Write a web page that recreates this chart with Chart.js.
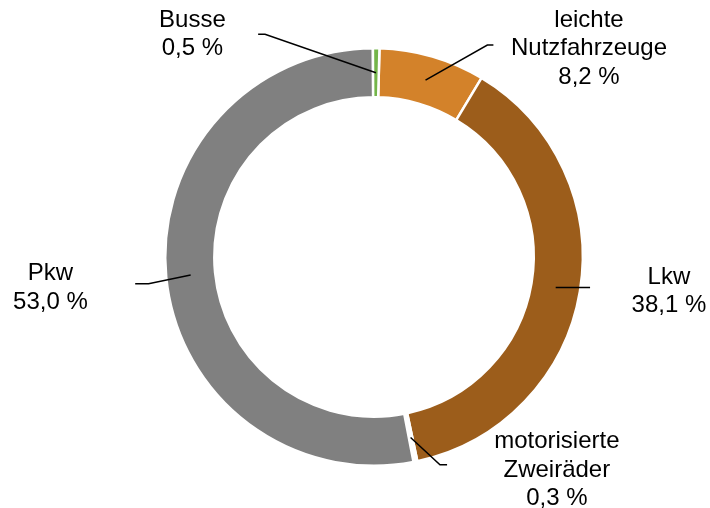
<!DOCTYPE html>
<html>
<head>
<meta charset="utf-8">
<script src="https://cdn.jsdelivr.net/npm/chart.js@4/dist/chart.umd.min.js"></script>
<style>
  html, body { margin: 0; padding: 0; background: #fff; }
  #wrap { width: 710px; height: 508px; position: relative; }
</style>
</head>
<body>
<div id="wrap"><canvas id="c" width="710" height="508"></canvas></div>
<script>
// Data
const categories = ["leichte Nutzfahrzeuge", "Lkw", "motorisierte Zweiräder", "Pkw", "Busse"];
const labelLines = [["leichte", "Nutzfahrzeuge"], ["Lkw"], ["motorisierte", "Zweiräder"], ["Pkw"], ["Busse"]];
const shares = [8.2, 38.1, 0.3, 53.0, 0.5];
const colors = ["#D3822A", "#9C5D1B", "#FFFFFF", "#808080", "#74B54A"];

// Label layout (relative to doughnut centre, in units of outer radius)
const labelLayout = [
  { elbow: [[0.543, -1.015], [0.572, -1.015]], text: [1.03, -0.998] },
  { elbow: [[1.035, null]], text: [1.413, 0.165] },
  { elbow: [[0.316, 0.995], [0.35, 0.995]], text: [0.876, 1.02] },
  { elbow: [[-1.08, 0.128], [-1.144, 0.128]], text: [-1.55, 0.148] },
  { elbow: [[-0.522, -1.067], [-0.555, -1.067]], text: [-0.87, -1.067] }
];

const fmt = v => v.toFixed(1).replace('.', ',') + ' %';

const labelPlugin = {
  id: 'leaderLabels',
  afterDatasetsDraw(chart) {
    const ctx = chart.ctx;
    const meta = chart.getDatasetMeta(0);
    ctx.save();
    meta.data.forEach((arc, i) => {
      const p = arc.getProps(['x', 'y', 'startAngle', 'endAngle', 'innerRadius', 'outerRadius'], true);
      const R = p.outerRadius;
      const mid = (p.startAngle + p.endAngle) / 2;
      const rr = (p.innerRadius + p.outerRadius) / 2;
      const ax = p.x + Math.cos(mid) * rr;
      const ay = p.y + Math.sin(mid) * rr;
      const L = labelLayout[i];
      ctx.strokeStyle = '#000';
      ctx.lineWidth = 1.5;
      ctx.beginPath();
      ctx.moveTo(ax, ay);
      L.elbow.forEach(e => {
        const ex = p.x + e[0] * R;
        const ey = e[1] === null ? ay : p.y + e[1] * R;
        ctx.lineTo(ex, ey);
      });
      ctx.stroke();
      const lines = labelLines[i].concat([fmt(shares[i])]);
      const lh = 28.5;
      const tx = p.x + L.text[0] * R;
      const ty = p.y + L.text[1] * R;
      ctx.fillStyle = '#000';
      ctx.font = '24px "Liberation Sans", Arial, sans-serif';
      ctx.textAlign = 'center';
      ctx.textBaseline = 'middle';
      lines.forEach((t, k) => {
        ctx.fillText(t, tx, ty + (k - (lines.length - 1) / 2) * lh);
      });
    });
    ctx.restore();
  }
};

new Chart(document.getElementById('c'), {
  type: 'doughnut',
  data: {
    labels: categories,
    datasets: [{
      data: shares,
      backgroundColor: colors,
      borderColor: '#FFFFFF',
      borderWidth: 2.5
    }]
  },
  options: {
    responsive: false,
    animation: false,
    rotation: 1.5,
    cutout: '76.5%',
    layout: { padding: { left: 164, right: 126, top: 47, bottom: 41 } },
    plugins: { legend: { display: false }, tooltip: { enabled: false } }
  },
  plugins: [labelPlugin]
});
</script>
</body>
</html>
